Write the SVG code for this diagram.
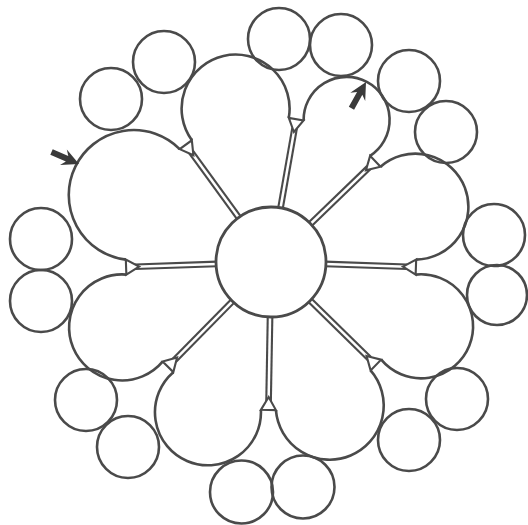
<svg xmlns="http://www.w3.org/2000/svg" width="528" height="525" viewBox="0 0 528 525">
<style>
.ol{fill:none;stroke:#4a4a4a;stroke-width:2.6}
.bud{fill:none;stroke:#4a4a4a;stroke-width:2.6}
.st{stroke:#4a4a4a;stroke-width:2.1}
.tri{fill:#fff;stroke:#4a4a4a;stroke-width:2.1;stroke-linejoin:miter}
.hub{fill:#fff;stroke:#4a4a4a;stroke-width:2.8}
.ptr{fill:#3a3a3a}
</style>
<defs>
<polygon id="arrow" class="ptr" points="0,0 -17,-8.5 -13,-3 -30,-3 -30,3 -13,3 -17,8.5"/>
</defs>
<rect width="528" height="525" fill="#fff"/>
<g id="petals">
<g id="petal-1"><path class="ol" d="M191.9,140.3 A54,54 0 1 1 288.8,117.9"/></g>
<g id="petal-2"><path class="ol" d="M303.6,120.5 A43,43 0 1 1 370.1,155.9"/></g>
<g id="petal-3"><path class="ol" d="M380.5,166.7 A53,53 0 1 1 416.2,259.6"/></g>
<g id="petal-4"><path class="ol" d="M415.6,274.6 A52,52 0 1 1 381.2,359.7"/></g>
<g id="petal-5"><path class="ol" d="M370.6,370.4 A54,54 0 1 1 275.9,410.1"/></g>
<g id="petal-6"><path class="ol" d="M260.9,409.9 A53,53 0 1 1 173.3,372.2"/></g>
<g id="petal-7"><path class="ol" d="M162.6,361.6 A53,53 0 1 1 126.4,274.6"/></g>
<g id="petal-8"><path class="ol" d="M125.8,259.6 A65,65 0 1 1 179.7,149.1"/></g>
</g>
<g id="buds">
<g id="bud-1"><circle class="bud" cx="164" cy="62" r="31"/></g>
<g id="bud-2"><circle class="bud" cx="111" cy="99" r="31"/></g>
<g id="bud-3"><circle class="bud" cx="279" cy="39" r="31"/></g>
<g id="bud-4"><circle class="bud" cx="341" cy="45" r="31"/></g>
<g id="bud-5"><circle class="bud" cx="409" cy="81" r="31"/></g>
<g id="bud-6"><circle class="bud" cx="446" cy="132" r="31"/></g>
<g id="bud-7"><circle class="bud" cx="494" cy="235" r="31"/></g>
<g id="bud-8"><circle class="bud" cx="497" cy="295" r="30"/></g>
<g id="bud-9"><circle class="bud" cx="457" cy="399" r="31"/></g>
<g id="bud-10"><circle class="bud" cx="409" cy="440" r="31"/></g>
<g id="bud-11"><circle class="bud" cx="303" cy="487" r="31.5"/></g>
<g id="bud-12"><circle class="bud" cx="241.5" cy="492" r="31.5"/></g>
<g id="bud-13"><circle class="bud" cx="128" cy="447" r="31"/></g>
<g id="bud-14"><circle class="bud" cx="86" cy="400" r="31"/></g>
<g id="bud-15"><circle class="bud" cx="41" cy="301" r="31"/></g>
<g id="bud-16"><circle class="bud" cx="41" cy="239" r="31"/></g>
</g>
<g id="connectors">
<g transform="translate(271 262) rotate(-80)"><line class="st" x1="54" y1="-2.3" x2="136" y2="-2.3"/><line class="st" x1="54" y1="2.3" x2="136" y2="2.3"/><polygon class="tri" points="132,0 145,-7.5 145,7.5"/></g>
<g transform="translate(271 262) rotate(-44)"><line class="st" x1="54" y1="-2.3" x2="136" y2="-2.3"/><line class="st" x1="54" y1="2.3" x2="136" y2="2.3"/><polygon class="tri" points="132,0 145,-7.5 145,7.5"/></g>
<g transform="translate(271 262) rotate(2)"><line class="st" x1="54" y1="-2.3" x2="136" y2="-2.3"/><line class="st" x1="54" y1="2.3" x2="136" y2="2.3"/><polygon class="tri" points="132,0 145,-7.5 145,7.5"/></g>
<g transform="translate(271 262) rotate(44.5)"><line class="st" x1="54" y1="-2.3" x2="138" y2="-2.3"/><line class="st" x1="54" y1="2.3" x2="138" y2="2.3"/><polygon class="tri" points="134,0 147,-7.5 147,7.5"/></g>
<g transform="translate(271 262) rotate(91)"><line class="st" x1="54" y1="-2.3" x2="139" y2="-2.3"/><line class="st" x1="54" y1="2.3" x2="139" y2="2.3"/><polygon class="tri" points="135,0 148,-7.5 148,7.5"/></g>
<g transform="translate(271 262) rotate(134.5)"><line class="st" x1="54" y1="-2.3" x2="138" y2="-2.3"/><line class="st" x1="54" y1="2.3" x2="138" y2="2.3"/><polygon class="tri" points="134,0 147,-7.5 147,7.5"/></g>
<g transform="translate(271 262) rotate(178)"><line class="st" x1="54" y1="-2.3" x2="136" y2="-2.3"/><line class="st" x1="54" y1="2.3" x2="136" y2="2.3"/><polygon class="tri" points="132,0 145,-7.5 145,7.5"/></g>
<g transform="translate(271 262) rotate(234)"><line class="st" x1="54" y1="-2.3" x2="136" y2="-2.3"/><line class="st" x1="54" y1="2.3" x2="136" y2="2.3"/><polygon class="tri" points="132,0 145,-7.5 145,7.5"/></g>
</g>
<g id="center"><circle class="hub" cx="271" cy="262" r="55"/></g>
<g id="pointers">
<use href="#arrow" transform="translate(79 164) rotate(23.6)"/>
<use href="#arrow" transform="translate(366 82) rotate(-61)"/>
</g>
</svg>
